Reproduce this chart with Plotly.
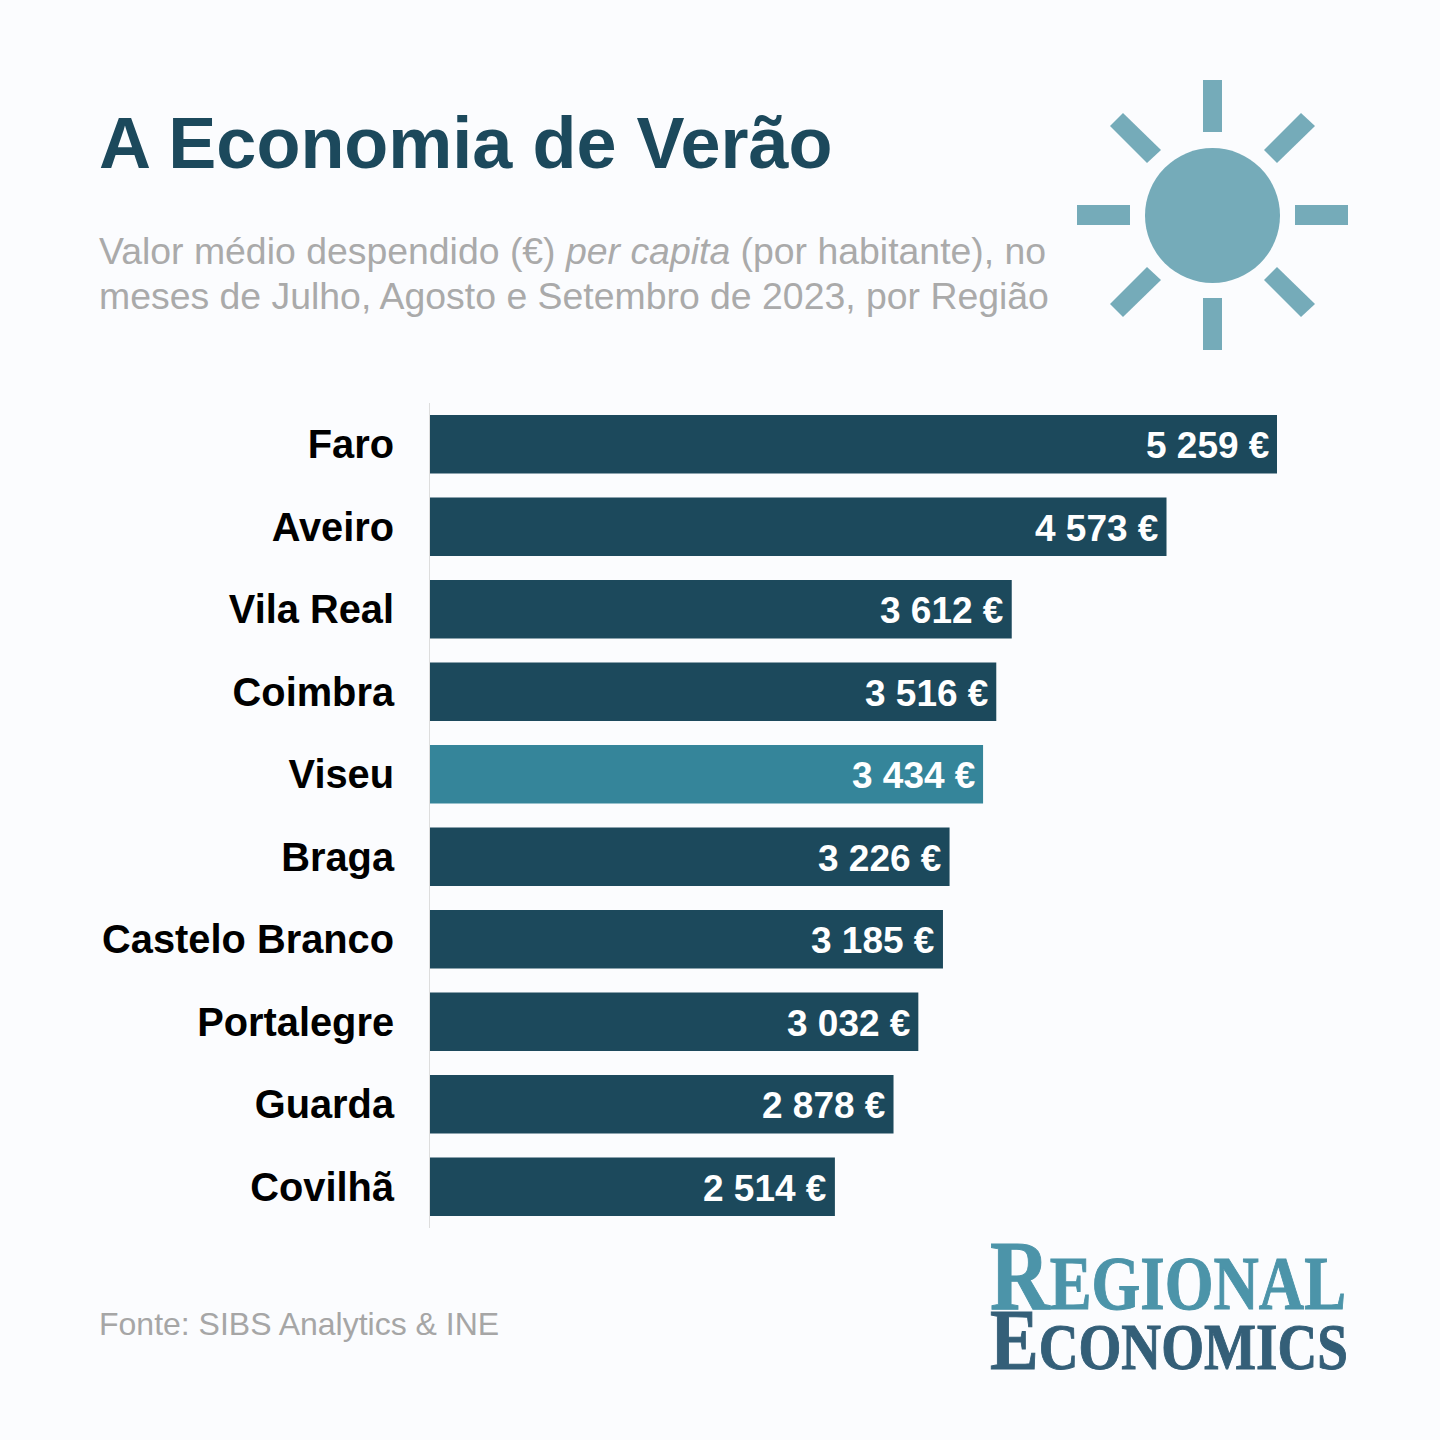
import plotly.graph_objects as go

regions = ["Faro", "Aveiro", "Vila Real", "Coimbra", "Viseu", "Braga", "Castelo Branco", "Portalegre", "Guarda", "Covilhã"]
values = [5259, 4573, 3612, 3516, 3434, 3226, 3185, 3032, 2878, 2514]
highlight = "Viseu"

DARK, HI, SUN, BG = "#1c495c", "#35859a", "#75abb9", "#fbfcfe"
FONT = "Liberation Sans"
W, H = 1440, 1440
L, R, T, B = 430, 100, 403, 212
PW, PH = W - L - R, H - T - B
PX_PER_UNIT = 847 / 5259


def px(x):
    return (x - L) / PW


def py(y):
    return 1 - (y - T) / PH


def poly(points, color):
    d = "M" + " L".join(f"{px(x):.5f},{py(y):.5f}" for x, y in points) + " Z"
    return dict(type="path", xref="paper", yref="paper", path=d, fillcolor=color, line_width=0, layer="above")


rays = [
    [(1203, 80), (1222, 80), (1222, 132), (1203, 132)],
    [(1203, 298), (1222, 298), (1222, 350), (1203, 350)],
    [(1077, 205), (1130, 205), (1130, 225), (1077, 225)],
    [(1295, 205), (1348, 205), (1348, 225), (1295, 225)],
    [(1110, 126), (1123, 113), (1161, 150), (1147, 163)],
    [(1301, 113), (1315, 126), (1277, 163), (1264, 150)],
    [(1147, 267), (1161, 280), (1123, 317), (1110, 304)],
    [(1277, 267), (1264, 280), (1301, 317), (1315, 304)],
]
shapes = [poly(r, SUN) for r in rays]
shapes.append(dict(type="circle", xref="paper", yref="paper", x0=px(1145), x1=px(1280), y0=py(283), y1=py(148),
                   fillcolor=SUN, line_width=0))


def label(text, x, y, size, color, anchor="left", bold=False, family=FONT):
    return dict(text=f"<b>{text}</b>" if bold else text, xref="paper", yref="paper", x=px(x), y=py(y),
                xanchor=anchor, yanchor="middle", showarrow=False, align=anchor,
                font=dict(family=family, size=size, color=color))


def caps(word, big, small):
    return f'<span style="font-size:{big}px">{word[0]}</span><span style="font-size:{small}px">{word[1:]}</span>'


annotations = [
    label("A Economia de Verão", 97, 143, 72, DARK, bold=True),
    label("Valor médio despendido (€) <i>per capita</i> (por habitante), no", 97, 251, 37.4, "#aaaaaa"),
    label("meses de Julho, Agosto e Setembro de 2023, por Região", 97, 296.5, 37.4, "#aaaaaa"),
    label("Fonte: SIBS Analytics &amp; INE", 97, 1324, 32, "#a6a6a6"),
    label(caps("REGIONAL", 100, 76), 988, 1275, 76, "#4c94a9", bold=True, family="Liberation Serif"),
    label(caps("ECONOMICS", 86, 65), 988, 1340, 65, "#345f78", bold=True, family="Liberation Serif"),
]
for r, v in zip(regions, values):
    s = f"{v:,}".replace(",", " ") + " €"
    annotations.append(dict(text=f"<b>{s}</b>", x=v, y=r, xref="x", yref="y", xanchor="right", yanchor="middle",
                            xshift=-6.5, yshift=-1.5, showarrow=False,
                            font=dict(family=FONT, size=37, color="white")))

fig = go.Figure(go.Bar(
    x=values, y=regions, orientation="h",
    marker=dict(color=[HI if r == highlight else DARK for r in regions], line_width=0),
    hoverinfo="skip",
))
fig.update_layout(
    width=W, height=H, autosize=False, paper_bgcolor=BG, plot_bgcolor=BG,
    margin=dict(l=L, r=R, t=T, b=B, pad=0), bargap=0.29, showlegend=False,
    shapes=shapes, annotations=annotations,
    xaxis=dict(range=[0, PW / PX_PER_UNIT], visible=False),
    yaxis=dict(autorange="reversed", showgrid=False, showline=True, linecolor="#dddddd", linewidth=1,
               ticks="", ticklabelstandoff=27, zeroline=False,
               tickfont=dict(family=FONT, size=39.8, color="black", weight="bold")),
)
post = """
document.body.style.margin = '0';
document.body.style.background = '%s';
var widths = {'REGIONAL': 356, 'ECONOMICS': 358};
document.querySelectorAll('.annotation-text').forEach(function (t) {
  Object.keys(widths).forEach(function (k) {
    if (t.textContent === k) {
      t.setAttribute('textLength', widths[k]);
      t.setAttribute('lengthAdjust', 'spacingAndGlyphs');
      t.style.stroke = k === 'REGIONAL' ? '#4c94a9' : '#345f78';
      t.style.strokeWidth = '1px';
    }
  });
});
""" % BG
fig.write_html("out.html", post_script=post, config={"displayModeBar": False})
